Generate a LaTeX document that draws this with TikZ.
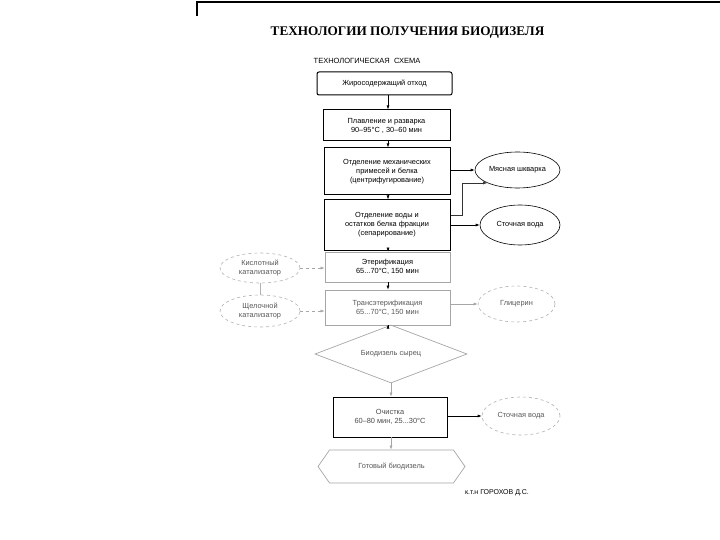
\documentclass[tikz,border=0pt]{standalone}
\usepackage{fontspec}
\setmainfont{Liberation Serif}
\setsansfont{Liberation Sans}
\usetikzlibrary{shapes.geometric,shapes.symbols,arrows.meta}
\begin{document}
\begin{tikzpicture}[x=1pt,y=-1pt,
  every node/.style={font=\sffamily\fontsize{7.4}{9}\selectfont, align=center, inner sep=0pt},
  softbox/.style={draw=gray!70, line width=0.8pt},
  oval/.style={draw=black, ellipse, line width=0.6pt},
  softoval/.style={draw=gray!60, ellipse, dashed, line width=0.6pt, text=gray!70!black},
  arr/.style={-{Latex[length=4pt,width=3pt]}, line width=0.6pt},
  softarr/.style={-{Latex[length=4pt,width=3pt]}, line width=0.6pt, draw=gray!70}
]
\useasboundingbox[fill=white] (0,0) rectangle (720,540);
% corner frame
\draw[line width=1.4pt] (197,16) -- (197,2) -- (720,2);
% titles
\node[font=\rmfamily\bfseries\fontsize{13.2}{15}\selectfont] (title) at (407.5,33) {ТЕХНОЛОГИИ ПОЛУЧЕНИЯ БИОДИЗЕЛЯ};
\node[font=\sffamily\fontsize{7.5}{9}\selectfont] (sub) at (367,61) {ТЕХНОЛОГИЧЕСКАЯ\ \ СХЕМА};
% main chain
\node[draw, line width=1pt, rounded corners=2pt, minimum width=135pt, minimum height=23pt] (b1) at (384.5,83.5) {Жиросодержащий отход};
\node[draw, line width=1pt, minimum width=127pt, minimum height=31pt] (b2) at (386.5,125.5) {Плавление и разварка\\90–95°C , 30–60 мин};
\node[draw, line width=1pt, minimum width=126pt, minimum height=47pt] (b3) at (387,171.5) {Отделение механических\\примесей и белка\\(центрифугирование)};
\node[draw, line width=1pt, minimum width=126pt, minimum height=50pt] (b4) at (387,225) {Отделение воды и\\остатков белка фракции\\(сепарирование)};
\node[softbox, minimum width=125pt, minimum height=30pt] (b5) at (387.5,267) {Этерификация\\65...70°C, 150 мин};
\node[softbox, minimum width=125pt, minimum height=35pt, text=gray!70!black] (b6) at (387.5,307.5) {Трансэтерификация\\65...70°C, 150 мин};
\node[draw=gray!70, line width=0.7pt, diamond, aspect=2.6, minimum width=152pt, minimum height=58pt, text=gray!70!black] (d1) at (391,354) {Биодизель сырец};
\node[draw=black, line width=0.8pt, minimum width=114pt, minimum height=40pt, text=gray!60!black] (b7) at (390,417) {Очистка\\60–80 мин, 25...30°C};
\node[draw=gray!70, line width=0.7pt, signal, signal to=west and east, signal pointer angle=110, minimum width=147pt, minimum height=33pt, text=gray!70!black] (h1) at (391.5,466.5) {Готовый биодизель};
% side ovals
\node[oval, minimum width=85pt, minimum height=36pt] (e1) at (517.5,170) {Мясная шкварка};
\node[oval, minimum width=80pt, minimum height=40pt] (e2) at (520,225) {Сточная вода};
\node[softoval, minimum width=80pt, minimum height=30pt] (e3) at (260,268) {Кислотный\\катализатор};
\node[softoval, minimum width=80pt, minimum height=32pt] (e4) at (260,311) {Щелочной\\катализатор};
\node[softoval, minimum width=77pt, minimum height=36pt] (e5) at (516.5,304) {Глицерин};
\node[softoval, minimum width=78pt, minimum height=38pt] (e6) at (521,416) {Сточная вода};
% author
\node[font=\sffamily\fontsize{7}{8}\selectfont] (author) at (497,493) {к.т.н ГОРОХОВ Д.С.};
% vertical flow
\coordinate (cx) at (388,0);
\coordinate (cx2) at (391,0);
\draw[arr] (b1.south -| cx) -- (b2.north -| cx);
\draw[arr] (b2.south -| cx) -- (b3.north -| cx);
\draw[arr] (b3.south -| cx) -- (b4.north -| cx);
\draw[arr] (b4.south -| cx) -- (b5.north -| cx);
\draw[arr] (b5.south -| cx) -- (b6.north -| cx);
\draw[arr] (b6.south -| cx) -- (d1.north -| cx);
\draw[softarr] (d1.south -| cx2) -- (b7.north -| cx2);
\draw[softarr] (b7.south -| cx2) -- (h1.north -| cx2);
% side flows
\draw[arr] (b3.east |- e1) -- (e1.west);
\coordinate (jt) at (462,215);
\draw[arr, draw=black!80] (b4.east |- jt) -- (jt) |- (e1.south west);
\draw[arr] (b4.east |- e2) -- (e2.west);
\draw[softarr, dashed] (e3.east) -- (b5.west |- e3);
\draw[softarr, dashed] (e4.east) -- (b6.west |- e4);
\draw[gray!60, line width=0.6pt] (e3.south) -- (e4.north);
\draw[softarr] (b6.east |- e5) -- (e5.west);
\draw[arr] (b7.east |- e6) -- (e6.west);
\end{tikzpicture}
\end{document}
